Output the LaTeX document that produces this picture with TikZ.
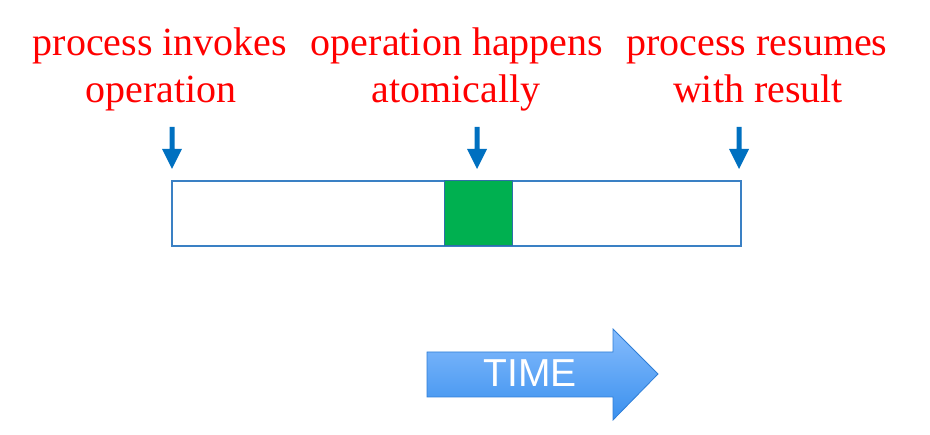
\documentclass[tikz,border=0pt]{standalone}
\usepackage{fontspec}
\setmainfont{Liberation Serif}
\newfontfamily\timesans{Liberation Sans}
\definecolor{lbl}{HTML}{FF0000}
\definecolor{arrblue}{HTML}{0070C0}
\definecolor{barblue}{HTML}{3A80C4}
\definecolor{opgreen}{HTML}{00B050}
\definecolor{opedge}{HTML}{2E6FA8}
\definecolor{timetop}{HTML}{86BCFD}
\definecolor{timebot}{HTML}{3A90EE}
\definecolor{timeedge}{HTML}{2F7ED6}
\tikzset{
  lbltext/.style={text=lbl, font=\fontsize{40}{47}\selectfont, anchor=base, inner sep=0pt},
  downarrow/.style={fill=arrblue, draw=none},
}
\newcommand{\downarr}[2]{%
  \fill[downarrow] ({#1-2.5},127) -- ({#1+2.5},127) -- ({#1+2.5},149) -- ({#1+10},149)
     -- (#1,#2) -- ({#1-10},149) -- ({#1-2.5},149) -- cycle;}
\begin{document}
\begin{tikzpicture}[x=1pt,y=-1pt]
\useasboundingbox (0,0) rectangle (930,435);
% labels
\node[lbltext] (l1a) at (160,56) {process invokes};
\node[lbltext] (l1b) at (161,103) {operation};
\node[lbltext] (l2a) at (457,56) {operation happens};
\node[lbltext] (l2b) at (456,103) {atomically};
\node[lbltext] (l3a) at (757,56) {process resumes};
\node[lbltext] (l3b) at (758,103) {with result};
% down arrows
\downarr{172}{169}
\downarr{477}{169}
\downarr{739}{169}
% bar
\draw[barblue, line width=1.3pt] (172,181) rectangle (741,246);
\draw[opedge, fill=opgreen, line width=1pt] (444,181) rectangle (512,246);
% TIME arrow
\shade[top color=timetop, bottom color=timebot, draw=timeedge, line width=0.8pt]
  (427,352) -- (613,352) -- (613,329) -- (658,374) -- (613,420) -- (613,397) -- (427,397) -- cycle;
\node[text=white, font=\timesans\fontsize{39}{39}\selectfont, anchor=base, inner sep=0pt] (time) at (530,387) {TIME};
\end{tikzpicture}
\end{document}
